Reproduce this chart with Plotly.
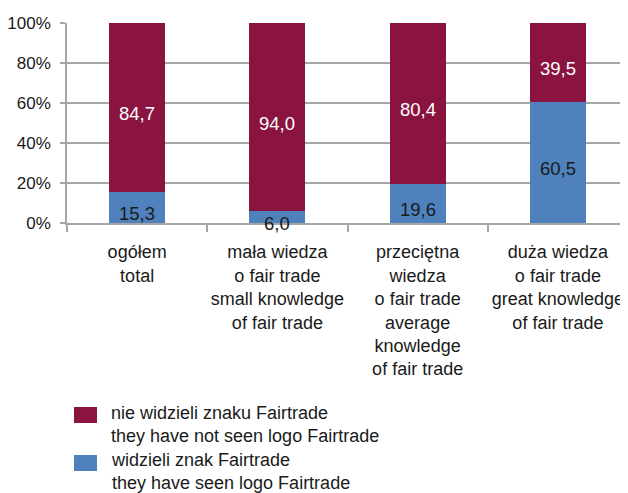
import plotly.graph_objects as go

categories = [
    "ogółem<br>total",
    "mała wiedza<br>o fair trade<br>small knowledge<br>of fair trade",
    "przeciętna<br>wiedza<br>o fair trade<br>average<br>knowledge<br>of fair trade",
    "duża wiedza<br>o fair trade<br>great knowledge<br>of fair trade",
]
seen = [15.3, 6.0, 19.6, 60.5]
not_seen = [84.7, 94.0, 80.4, 39.5]
y_ticks = [0, 20, 40, 60, 80, 100]
y_tick_labels = ["0%", "20%", "40%", "60%", "80%", "100%"]
legend_not_seen = "nie widzieli znaku Fairtrade<br>they have not seen logo Fairtrade"
legend_seen = "widzieli znak Fairtrade<br>they have seen logo Fairtrade"

MAROON = "#8A1340"
BLUE = "#4F81BD"
GRID = "#A6A6A6"
TXT = "#1a1a1a"
FONT = "Liberation Sans, Arial, sans-serif"
FS = 18
FS2 = 18.5
FSY = 17

# the page body adds an 8px offset; the figure is sized to fill the rest
OFF = 8
W, H = 628 - OFF, 493 - OFF
L, R, T, B = 67 - OFF, 0, 23 - OFF, 270
PH = H - T - B
PW = W - L - R


def fmt(v):
    return f"{v:.1f}".replace(".", ",")


def px_x(x):
    # x given in screenshot pixels
    return (x - OFF - L) / PW


def px_y(y):
    return (H - B - (y - OFF)) / PH


xs = list(range(len(categories)))

fig = go.Figure()
fig.add_trace(go.Bar(x=xs, y=seen, marker_color=BLUE, width=0.4,
                     marker_line_width=0, showlegend=False, hoverinfo="skip"))
fig.add_trace(go.Bar(x=xs, y=not_seen, marker_color=MAROON, width=0.4,
                     marker_line_width=0, showlegend=False, hoverinfo="skip"))

annotations = []
for x, s, n in zip(xs, seen, not_seen):
    annotations.append(dict(x=x, y=s / 2, xref="x", yref="y", text=fmt(s),
                            showarrow=False, yshift=-6,
                            font=dict(family=FONT, size=FS2, color=TXT)))
    annotations.append(dict(x=x, y=s + n / 2, xref="x", yref="y", text=fmt(n),
                            showarrow=False, yshift=-6,
                            font=dict(family=FONT, size=FS2, color="white")))

# manual legend
shapes = [
    dict(type="rect", xref="paper", yref="paper",
         x0=px_x(74), x1=px_x(97), y0=px_y(423), y1=px_y(407),
         fillcolor=MAROON, line_width=0),
    dict(type="rect", xref="paper", yref="paper",
         x0=px_x(74), x1=px_x(97), y0=px_y(471), y1=px_y(455),
         fillcolor=BLUE, line_width=0),
]
annotations += [
    dict(x=px_x(109), y=px_y(424.5), xref="paper", yref="paper",
         text=legend_not_seen, showarrow=False, xanchor="left", yanchor="middle",
         align="left", font=dict(family=FONT, size=FS, color=TXT)),
    dict(x=px_x(109), y=px_y(471.5), xref="paper", yref="paper",
         text=legend_seen, showarrow=False, xanchor="left", yanchor="middle",
         align="left", font=dict(family=FONT, size=FS, color=TXT)),
]

fig.update_layout(
    barmode="stack",
    width=W, height=H,
    margin=dict(l=L, r=R, t=T, b=B, pad=0, autoexpand=False),
    paper_bgcolor="white", plot_bgcolor="white",
    font=dict(family=FONT, size=FS, color=TXT),
    shapes=shapes, annotations=annotations,
    showlegend=False,
)
fig.update_xaxes(
    range=[-0.5, 3.5], tickmode="array", tickvals=xs, ticktext=categories,
    ticks="", showgrid=False, showline=True, linecolor=GRID, linewidth=1.5,
    zeroline=False, ticklabelstandoff=12, automargin=False,
    minor=dict(tickmode="linear", tick0=-0.5, dtick=1, ticks="outside",
               ticklen=7, tickcolor=GRID, tickwidth=1.5, showgrid=False),
    tickfont=dict(family=FONT, size=FS, color=TXT),
)
fig.update_yaxes(
    range=[0, 100], tickmode="array", tickvals=y_ticks, ticktext=y_tick_labels,
    showgrid=True, gridcolor=GRID, gridwidth=1.5, showline=True,
    linecolor=GRID, linewidth=1.5, ticks="outside", ticklen=5,
    tickcolor=GRID, tickwidth=1.5, zeroline=False, ticklabelstandoff=6,
    automargin=False,
    tickfont=dict(family=FONT, size=FSY, color=TXT),
)

fig.write_html("out.html")
